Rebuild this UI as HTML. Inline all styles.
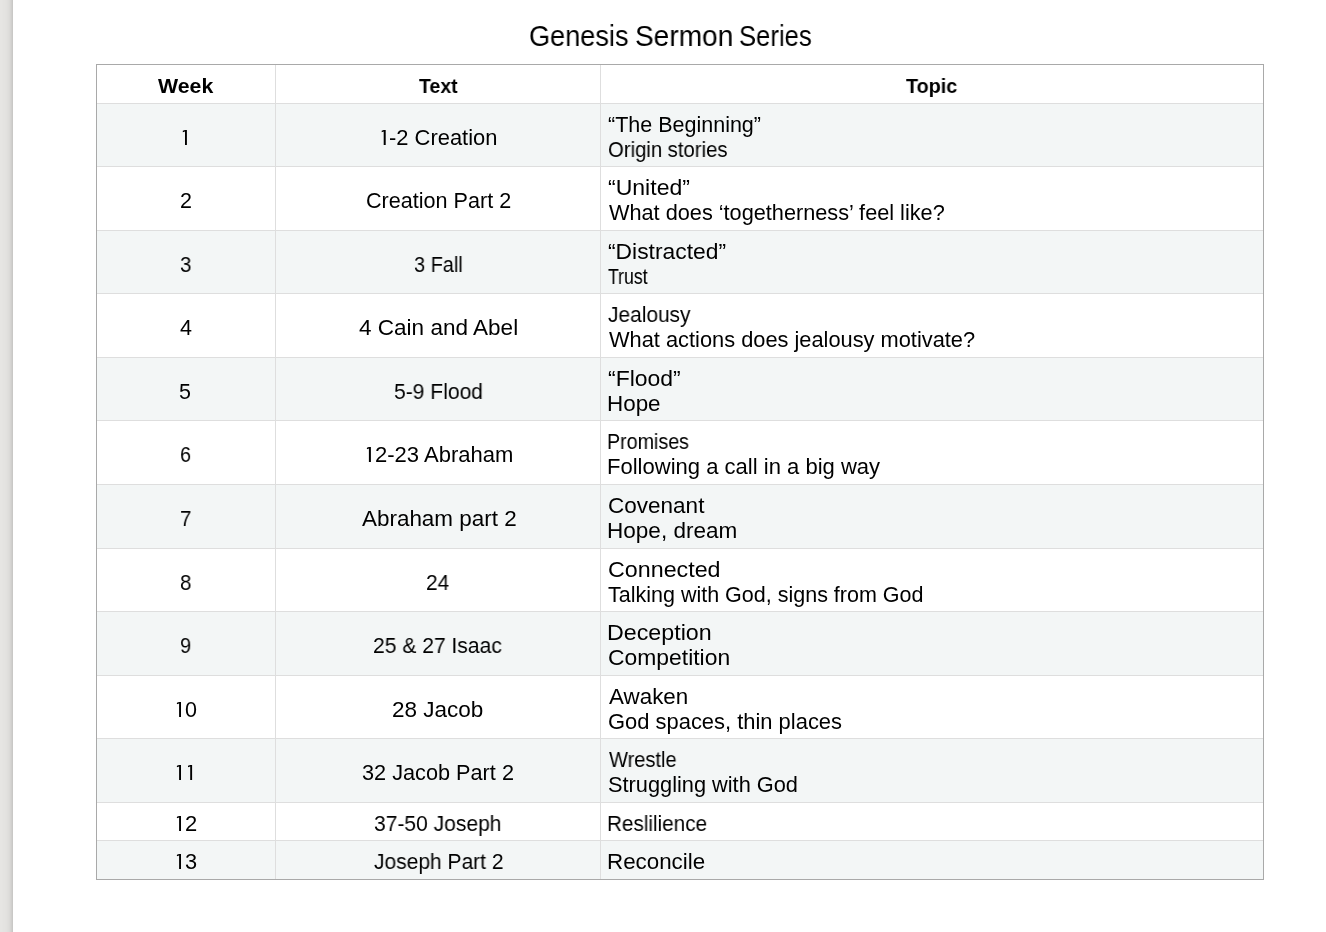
<!DOCTYPE html>
<html><head><meta charset="utf-8"><title>Genesis Sermon Series</title>
<style>
*{margin:0;padding:0;box-sizing:border-box}
html,body{width:1326px;height:932px;overflow:hidden;background:#fff}
body{position:relative;font-family:"Liberation Sans",sans-serif;color:#000}
.sb{position:absolute;left:0;top:0;width:13px;height:932px;
 background:linear-gradient(to right,#e6e5e3 0 2px,#e5e4e2 2px 3px,#e4e3e1 3px 5px,#e3e2e0 5px 6px,#e2e1df 6px 7px,#e0dfdd 7px 8px,#dedddb 8px 9px,#dbdad8 9px 10px,#d6d5d3 10px 11px,#d0cfcd 11px 12px,#c9c8c6 12px 13px)}
.h{position:absolute;height:1px;background:#dedede}
.v{position:absolute;width:1px;background:#dedede}
.bd{position:absolute;background:#a9a9a9}
.sh{position:absolute;background:#f3f6f6}
.t{position:absolute;will-change:transform;white-space:nowrap;font-size:21.5px;line-height:30px;height:30px;transform-origin:0 0}
.b{font-weight:bold}
</style></head>
<body>
<div class="sb"></div>
<div class="sh" style="left:97px;top:104px;width:1166px;height:62px"></div>
<div class="sh" style="left:97px;top:231px;width:1166px;height:62px"></div>
<div class="sh" style="left:97px;top:358px;width:1166px;height:62px"></div>
<div class="sh" style="left:97px;top:485px;width:1166px;height:63px"></div>
<div class="sh" style="left:97px;top:612px;width:1166px;height:63px"></div>
<div class="sh" style="left:97px;top:739px;width:1166px;height:63px"></div>
<div class="sh" style="left:97px;top:841px;width:1166px;height:38px"></div>
<div class="h" style="left:96px;top:103px;width:1167px"></div>
<div class="h" style="left:96px;top:166px;width:1167px"></div>
<div class="h" style="left:96px;top:230px;width:1167px"></div>
<div class="h" style="left:96px;top:293px;width:1167px"></div>
<div class="h" style="left:96px;top:357px;width:1167px"></div>
<div class="h" style="left:96px;top:420px;width:1167px"></div>
<div class="h" style="left:96px;top:484px;width:1167px"></div>
<div class="h" style="left:96px;top:548px;width:1167px"></div>
<div class="h" style="left:96px;top:611px;width:1167px"></div>
<div class="h" style="left:96px;top:675px;width:1167px"></div>
<div class="h" style="left:96px;top:738px;width:1167px"></div>
<div class="h" style="left:96px;top:802px;width:1167px"></div>
<div class="h" style="left:96px;top:840px;width:1167px"></div>
<div class="v" style="left:275px;top:64px;height:815px"></div>
<div class="v" style="left:600px;top:64px;height:815px"></div>
<div class="bd" style="left:96px;top:64px;width:1168px;height:1px"></div>
<div class="bd" style="left:96px;top:879px;width:1168px;height:1px"></div>
<div class="bd" style="left:96px;top:64px;width:1px;height:816px"></div>
<div class="bd" style="left:1263px;top:64px;width:1px;height:816px"></div>
<div class="t" style="left:528.656px;top:21px;font-size:29px;transform:scaleX(0.93498);">Genesis</div>
<div class="t" style="left:634.719px;top:21px;font-size:29px;transform:scaleX(0.96746);">Sermon</div>
<div class="t" style="left:738.953px;top:21px;font-size:29px;transform:scaleX(0.88423);">Series</div>
<div class="t b" style="left:158.358px;top:70px;font-size:20.5px;line-height:31px;height:31px;transform:scaleX(1.03876);">Week</div>
<div class="t b" style="left:419.145px;top:70px;font-size:20.5px;line-height:31px;height:31px;transform:scaleX(0.95118);">Text</div>
<div class="t b" style="left:906.036px;top:70px;font-size:20.5px;line-height:31px;height:31px;transform:scaleX(0.96434);">Topic</div>
<div class="t" style="left:388.981px;top:123px;transform:scaleX(1.01923);">-2 Creation</div>
<div class="t" style="left:607.822px;top:110px;transform:scaleX(0.99868);">“The Beginning”</div>
<div class="t" style="left:607.857px;top:135px;transform:scaleX(0.94320);">Origin stories</div>
<div class="t" style="left:179.720px;top:186px;transform:scaleX(0.98000);">2</div>
<div class="t" style="left:365.796px;top:186px;transform:scaleX(1.00420);">Creation Part 2</div>
<div class="t" style="left:607.644px;top:173px;transform:scaleX(1.07154);">“United”</div>
<div class="t" style="left:608.800px;top:198px;transform:scaleX(1.00934);">What does ‘togetherness’ feel like?</div>
<div class="t" style="left:179.717px;top:250px;transform:scaleX(0.95225);">3</div>
<div class="t" style="left:414.072px;top:250px;transform:scaleX(0.92800);">3 Fall</div>
<div class="t" style="left:607.709px;top:237px;transform:scaleX(1.06278);">“Distracted”</div>
<div class="t" style="left:607.979px;top:262px;transform:scaleX(0.82128);">Trust</div>
<div class="t" style="left:179.615px;top:313px;transform:scaleX(0.99776);">4</div>
<div class="t" style="left:358.618px;top:313px;transform:scaleX(1.04823);">4 Cain and Abel</div>
<div class="t" style="left:607.827px;top:300px;transform:scaleX(0.97262);">Jealousy</div>
<div class="t" style="left:608.800px;top:325px;transform:scaleX(1.01444);">What actions does jealousy motivate?</div>
<div class="t" style="left:179.105px;top:377px;transform:scaleX(0.98141);">5</div>
<div class="t" style="left:393.653px;top:377px;transform:scaleX(0.97977);">5-9 Flood</div>
<div class="t" style="left:607.681px;top:364px;transform:scaleX(1.06844);">“Flood”</div>
<div class="t" style="left:606.683px;top:389px;transform:scaleX(1.04215);">Hope</div>
<div class="t" style="left:180.080px;top:440px;transform:scaleX(0.92000);">6</div>
<div class="t" style="left:374.626px;top:440px;transform:scaleX(1.02444);">2-23 Abraham</div>
<div class="t" style="left:606.970px;top:427px;transform:scaleX(0.91494);">Promises</div>
<div class="t" style="left:606.731px;top:452px;transform:scaleX(1.02482);">Following a call in a big way</div>
<div class="t" style="left:179.870px;top:504px;transform:scaleX(0.95356);">7</div>
<div class="t" style="left:361.900px;top:504px;transform:scaleX(1.04354);">Abraham part 2</div>
<div class="t" style="left:607.753px;top:491px;transform:scaleX(1.04725);">Covenant</div>
<div class="t" style="left:606.630px;top:516px;transform:scaleX(1.04833);">Hope, dream</div>
<div class="t" style="left:179.841px;top:568px;transform:scaleX(0.95232);">8</div>
<div class="t" style="left:425.939px;top:568px;transform:scaleX(0.96900);">24</div>
<div class="t" style="left:607.718px;top:555px;transform:scaleX(1.08235);">Connected</div>
<div class="t" style="left:607.800px;top:580px;">Talking with God, signs from God</div>
<div class="t" style="left:179.770px;top:631px;transform:scaleX(0.93000);">9</div>
<div class="t" style="left:373.375px;top:631px;transform:scaleX(0.97998);">25 &amp; 27 Isaac</div>
<div class="t" style="left:606.521px;top:618px;transform:scaleX(1.08091);">Deception</div>
<div class="t" style="left:607.599px;top:643px;transform:scaleX(1.06458);">Competition</div>
<div class="t" style="left:185.100px;top:695px;">0</div>
<div class="t" style="left:392.453px;top:695px;transform:scaleX(1.04706);">28 Jacob</div>
<div class="t" style="left:608.800px;top:682px;transform:scaleX(1.04133);">Awaken</div>
<div class="t" style="left:607.780px;top:707px;transform:scaleX(1.01974);">God spaces, thin places</div>
<div class="t" style="left:362.388px;top:758px;transform:scaleX(1.00896);">32 Jacob Part 2</div>
<div class="t" style="left:608.800px;top:745px;transform:scaleX(0.93333);">Wrestle</div>
<div class="t" style="left:607.788px;top:770px;transform:scaleX(1.01243);">Struggling with God</div>
<div class="t" style="left:185.051px;top:809px;transform:scaleX(1.02290);">2</div>
<div class="t" style="left:374.178px;top:809px;transform:scaleX(0.97792);">37-50 Joseph</div>
<div class="t" style="left:606.910px;top:809px;transform:scaleX(0.96269);">Reslilience</div>
<div class="t" style="left:185.184px;top:847px;transform:scaleX(1.01280);">3</div>
<div class="t" style="left:373.509px;top:847px;transform:scaleX(0.97609);">Joseph Part 2</div>
<div class="t" style="left:606.696px;top:847px;transform:scaleX(1.03968);">Reconcile</div>
<svg style="position:absolute;left:0;top:0" width="1326" height="932" viewBox="0 0 1326 932"><path fill="#000" d="M185.00 130.00H186.90V145.00H185.00V131.50L182.80 132.20L182.80 130.80Z M179.10 702.00H181.00V717.00H179.10V703.50L176.90 704.20L176.90 702.80Z M179.10 765.00H181.00V780.00H179.10V766.50L176.90 767.20L176.90 765.80Z M190.20 765.00H192.10V780.00H190.20V766.50L188.00 767.20L188.00 765.80Z M179.10 816.00H181.00V831.00H179.10V817.50L176.90 818.20L176.90 816.80Z M179.10 854.00H181.00V869.00H179.10V855.50L176.90 856.20L176.90 854.80Z M383.70 130.00H385.70V145.00H383.70V131.50L381.70 132.20L381.70 130.80Z M368.90 447.00H370.90V462.00H368.90V448.50L366.90 449.20L366.90 447.80Z"/></svg>
</body></html>
